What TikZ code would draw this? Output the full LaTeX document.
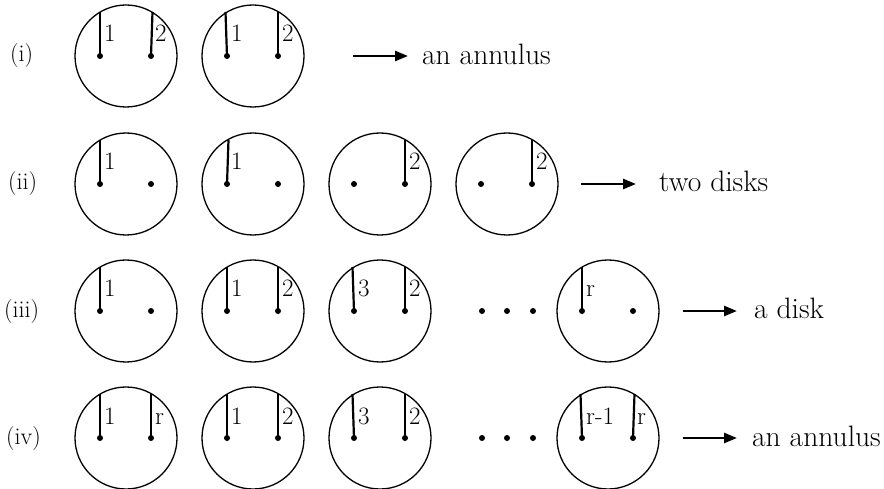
\documentclass[tikz,border=0pt]{standalone}
\usepackage{fontspec}
\setmainfont{Latin Modern Roman}
\usetikzlibrary{calc,arrows.meta}
\newcommand\mydisk[3]{%
  \node[disk] (#1) at (#2,-#3) {};
  \node[pt] (#1a) at ([xshift=-26pt]#1.center) {};
  \node[pt] (#1b) at ([xshift=25pt]#1.center) {};}
\newcommand\myslit[4]{% dot, label name, label text, slant of top
  \coordinate (#2top) at ([shift={(#4pt,44pt)}]#1.center);
  \draw[slit] (#1.center) -- (#2top);
  \node[lab] (#2) at ([shift={(4pt,14pt)}]#1.center) {#3};}
\begin{document}
\begin{tikzpicture}[x=1pt,y=1pt,
  disk/.style={circle,draw,line width=1.3pt,minimum size=102pt,inner sep=0pt},
  slit/.style={line width=2.2pt},
  lab/.style={font=\fontsize{25}{25}\selectfont,inner sep=0pt,anchor=base west},
  rowlab/.style={font=\fontsize{24}{24}\selectfont,inner sep=0pt,anchor=base west},
  txt/.style={font=\fontsize{29.5}{29.5}\selectfont,inner sep=0pt,anchor=base west},
  arr/.style={line width=2.6pt,-{Triangle[length=13pt,width=10pt]}},
  pt/.style={circle,fill,inner sep=0pt,minimum size=6pt}]
\useasboundingbox (0,0) rectangle (884,-489);

% row labels
\node[rowlab] (Li)   at (10,-62)  {(i)};
\node[rowlab] (Lii)  at (8,-190)  {(ii)};
\node[rowlab] (Liii) at (4,-317)  {(iii)};
\node[rowlab] (Liv)  at (6,-444)  {(iv)};

% row (i)
\mydisk{A1}{126}{56}
\myslit{A1a}{A1x}{1}{0}
\myslit{A1b}{A1y}{2}{1.5}
\mydisk{A2}{253}{56}
\myslit{A2a}{A2x}{1}{-1.5}
\myslit{A2b}{A2y}{2}{0}
\coordinate (Ai) at (353,-56);
\coordinate (Aj) at (408,-56);
\draw[arr] (Ai) -- (Aj);
\node[txt] (At) at (422,-65) {an annulus};

% row (ii)
\mydisk{B1}{126}{184}
\myslit{B1a}{B1x}{1}{0}
\mydisk{B2}{253}{184}
\myslit{B2a}{B2x}{1}{1.5}
\mydisk{B3}{380}{184}
\myslit{B3b}{B3y}{2}{0}
\mydisk{B4}{507}{184}
\myslit{B4b}{B4y}{2}{0}
\coordinate (Bi) at (581,-184);
\coordinate (Bj) at (636,-184);
\draw[arr] (Bi) -- (Bj);
\node[txt] (Bt) at (659,-192) {two disks};

% row (iii)
\mydisk{C1}{126}{311}
\myslit{C1a}{C1x}{1}{0}
\mydisk{C2}{253}{311}
\myslit{C2a}{C2x}{1}{0}
\myslit{C2b}{C2y}{2}{0}
\mydisk{C3}{380}{311}
\myslit{C3a}{C3x}{3}{-1.5}
\myslit{C3b}{C3y}{2}{0}
\node[pt] (Cd1) at (482,-311) {};
\node[pt] (Cd2) at (507,-311) {};
\node[pt] (Cd3) at (533,-311) {};
\mydisk{C4}{608}{311}
\myslit{C4a}{C4x}{r}{0}
\coordinate (Ci) at (683,-311);
\coordinate (Cj) at (737,-311);
\draw[arr] (Ci) -- (Cj);
\node[txt] (Ct) at (754,-318) {a disk};

% row (iv)
\mydisk{D1}{126}{438}
\myslit{D1a}{D1x}{1}{0}
\myslit{D1b}{D1y}{r}{0}
\mydisk{D2}{253}{438}
\myslit{D2a}{D2x}{1}{0}
\myslit{D2b}{D2y}{2}{0}
\mydisk{D3}{380}{438}
\myslit{D3a}{D3x}{3}{-1.5}
\myslit{D3b}{D3y}{2}{0}
\node[pt] (Dd1) at (482,-438) {};
\node[pt] (Dd2) at (507,-438) {};
\node[pt] (Dd3) at (533,-438) {};
\mydisk{D4}{608}{438}
\myslit{D4a}{D4x}{r-1}{-1.5}
\myslit{D4b}{D4y}{r}{1.5}
\coordinate (Di) at (683,-438);
\coordinate (Dj) at (737,-438);
\draw[arr] (Di) -- (Dj);
\node[txt] (Dt) at (752,-446) {an annulus};
\end{tikzpicture}
\end{document}
